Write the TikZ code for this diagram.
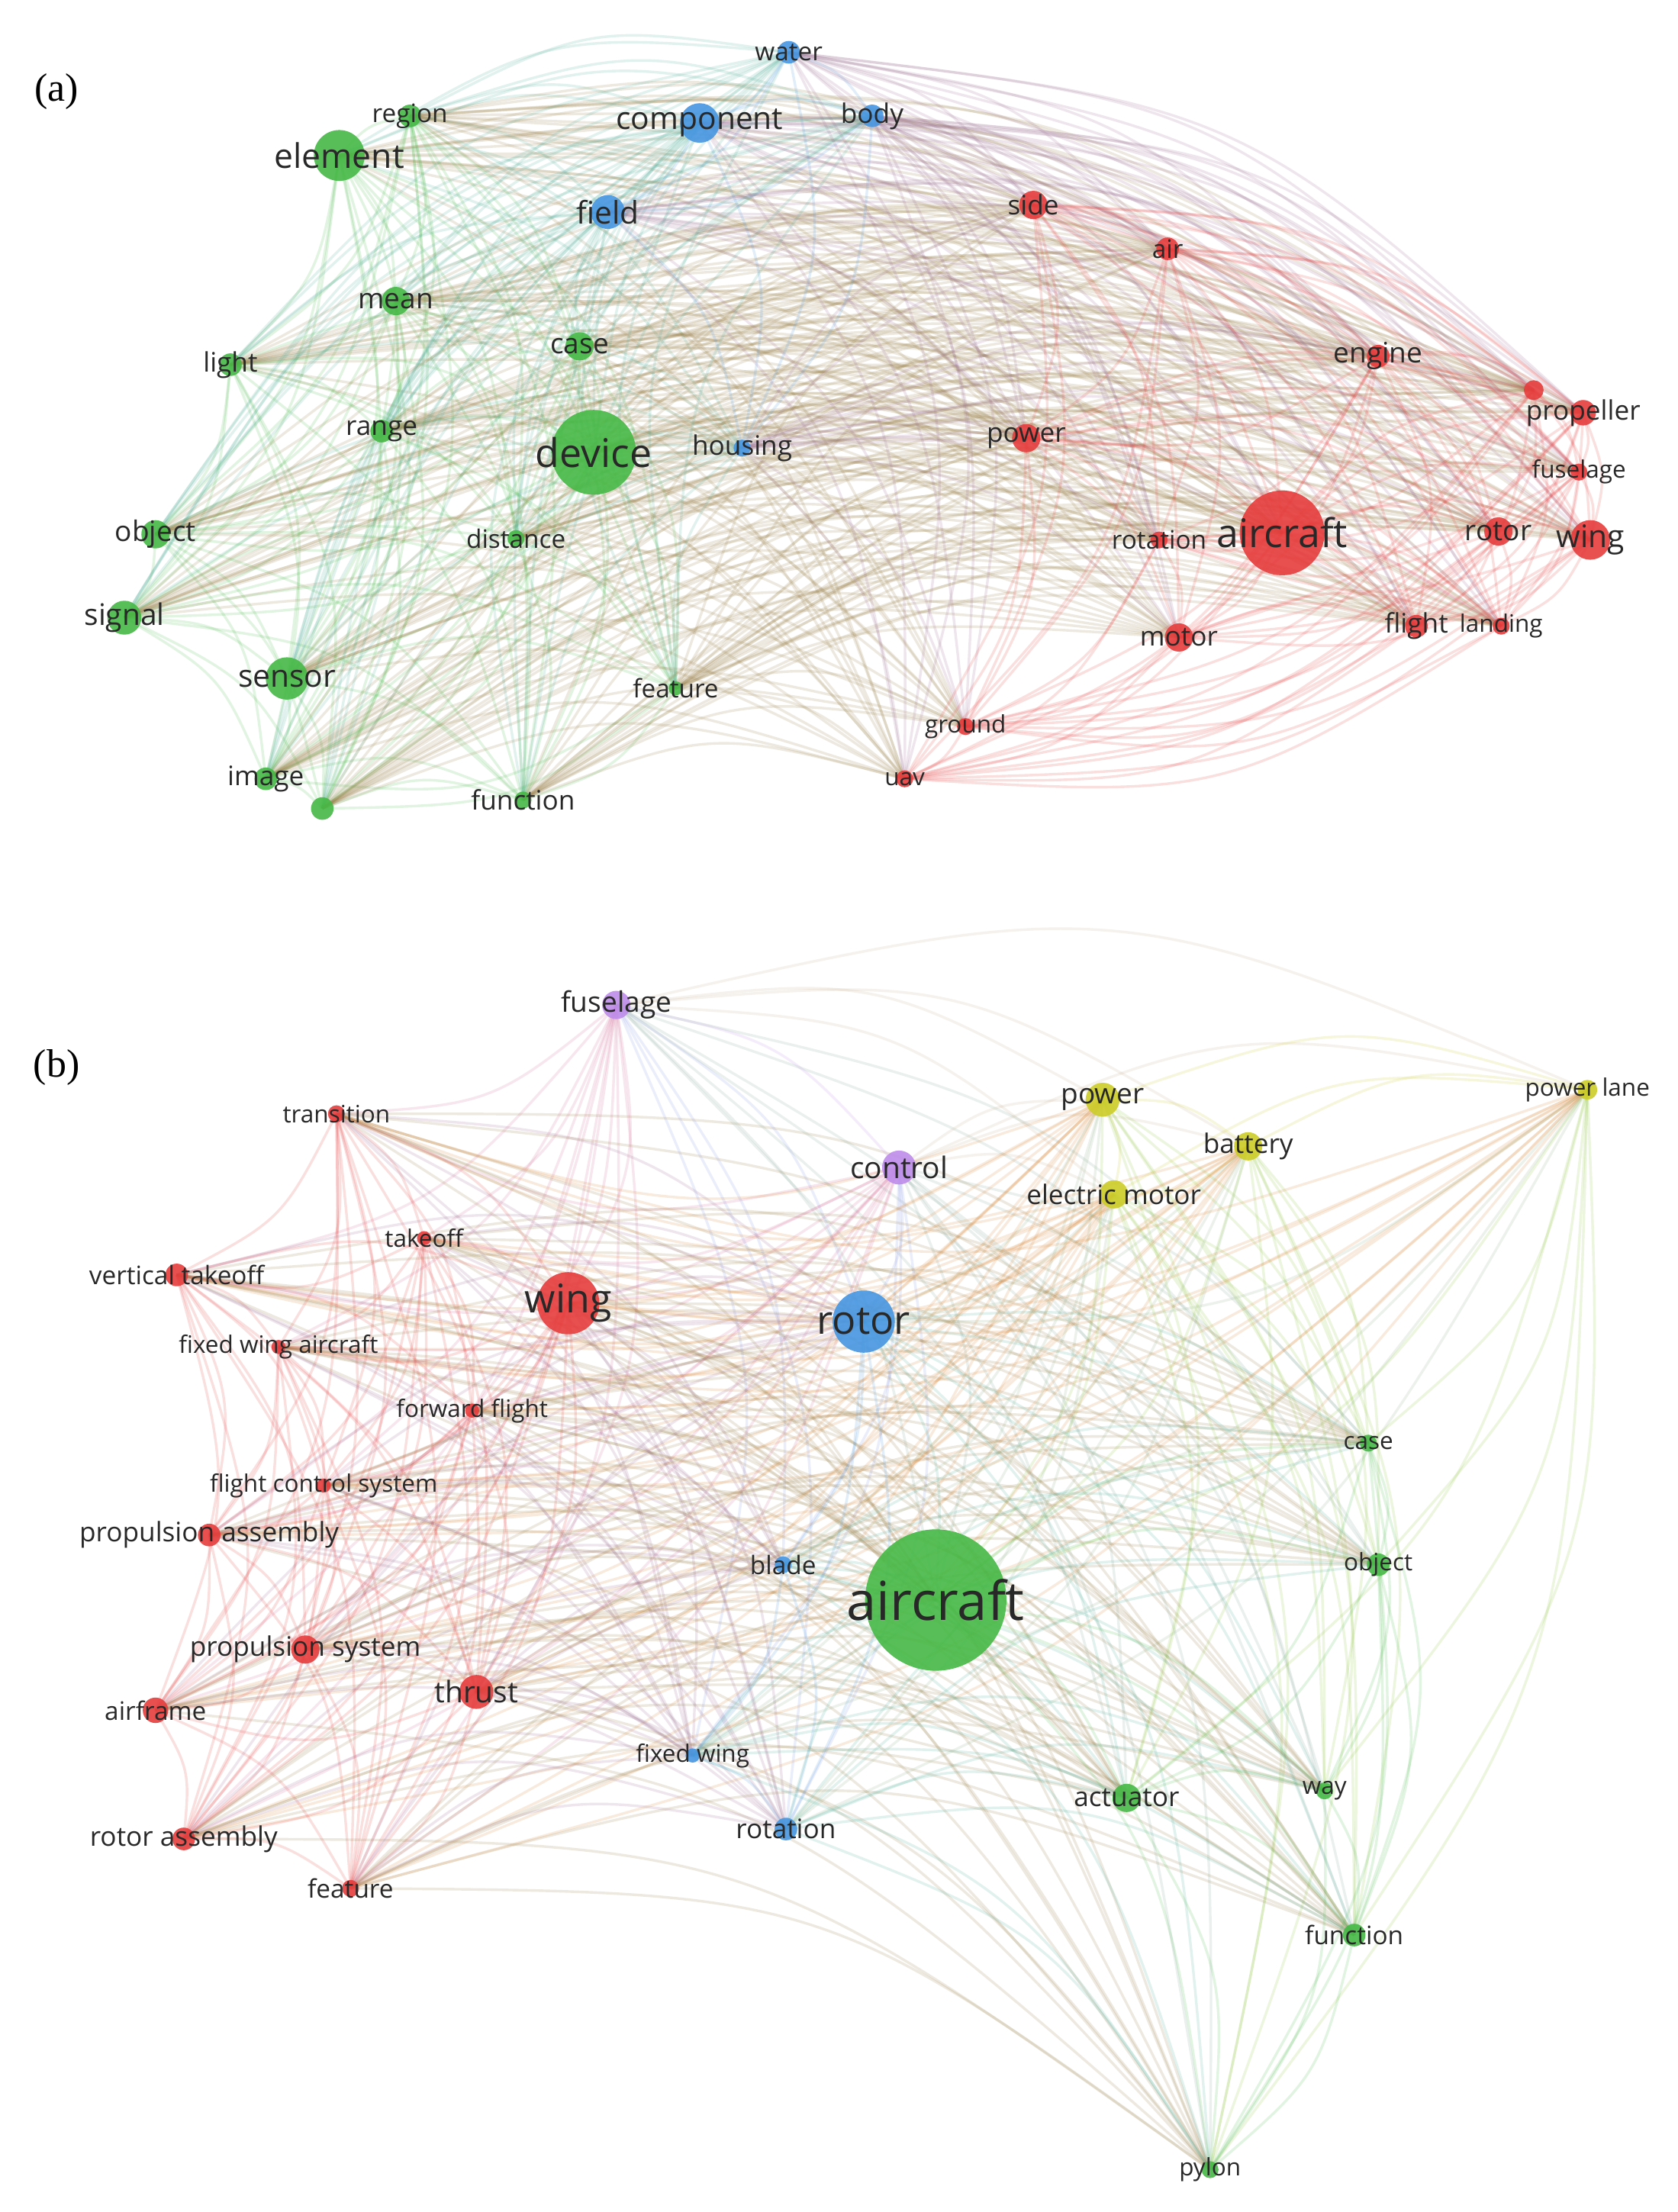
\documentclass[tikz,border=0pt]{standalone}
\usepackage{fontspec}
\setmainfont{Liberation Serif}
\newfontfamily\lab{Open Sans}
\definecolor{gG}{RGB}{70,185,70}
\definecolor{gR}{RGB}{230,60,60}
\definecolor{gB}{RGB}{70,150,225}
\definecolor{gP}{RGB}{190,140,235}
\definecolor{gY}{RGB}{205,205,40}
\definecolor{txt}{RGB}{40,40,40}
\tikzset{edge/.style={line width=0.55pt,opacity=0.16},
 lbl/.style={text=txt,inner sep=0pt}}
\def\PA{element/240/110/18/gG/element/24,
region/290/82/8/gG/region/18,
mean/280/213/10/gG/mean/20,
light/163/258/8/gG/light/19,
range/270/305/8/gG/range/19,
case/410/245/10/gG/case/20,
device/420/320/30/gG/device/28,
object/110/378/10/gG/object/20,
signal/88/437/12/gG/signal/21,
sensor/203/480/15/gG/sensor/22,
distance/365/381/6/gG/distance/18,
feature/478/487/5/gG/feature/18,
image/188/551/8/gG/image/19,
information/228/572/8/gG/{}/10,
function/370/566/6/gG/function/19,
water/558/37/8/gB/water/18,
component/495/87/14/gB/component/22,
body/617/82/8/gB/body/19,
field/430/150/12/gB/field/22,
housing/525/317/6/gB/housing/19,
side/731/145/10/gR/side/19,
air/826/176/8/gR/air/18,
engine/975/252/8/gR/engine/20,
power/726/310/10/gR/power/19,
aircraft/907/377/30/gR/aircraft/28,
propeller/1120/292/9/gR/propeller/19,
pp/1085/276/7/gR/{}/10,
fuselage/1117/334/6/gR/fuselage/17,
rotor/1060/376/10/gR/rotor/20,
wing/1125/382/14/gR/wing/22,
rotation/820/382/6/gR/rotation/18,
motor/834/451/10/gR/motor/19,
flight/1002/443/8/gR/flight/19,
landing/1062/443/6/gR/landing/17,
ground/683/514/6/gR/ground/17,
uav/640/551/6/gR/uav/17}
\def\PB{bfus/436/711/10/gP/fuselage/20,
bcontrol/636/826/12/gP/control/21,
bpower/780/778/12/gY/power/20,
bbattery/883/811/10/gY/battery/19,
bem/788/845/10/gY/electric motor/19,
bpl/1123/771/7/gY/power lane/17,
btrans/238/788/6/gR/transition/17,
btake/300/876/5/gR/takeoff/17,
bvt/125/902/8/gR/vertical takeoff/18,
bwing/402/922/22/gR/wing/28,
bfwa/197/953/5/gR/fixed wing aircraft/17,
bff/334/998/5/gR/forward flight/17,
bfcs/229/1051/5/gR/flight control system/17,
bpa/148/1086/8/gR/propulsion assembly/19,
bps/216/1167/10/gR/propulsion system/19,
bthrust/337/1197/12/gR/thrust/21,
bairframe/110/1210/9/gR/airframe/18,
bra/130/1301/8/gR/rotor assembly/19,
bfeat/248/1336/6/gR/feature/18,
brotor/611/935/22/gB/rotor/28,
bblade/554/1107/6/gB/blade/18,
bfw/490/1242/5/gB/fixed wing/17,
brot/556/1294/8/gB/rotation/19,
bair/662/1132/50/gG/aircraft/38,
bcase/968/1021/6/gG/case/17,
bobj/975/1107/8/gG/object/17,
bact/797/1272/10/gG/actuator/19,
bway/937/1267/6/gG/way/17,
bfun/958/1369/8/gG/function/18,
bpylon/856/1535/6/gG/pylon/17}
\newcommand\drawpanel[1]{%
\foreach \nA/\xA/\yA/\rA/\cA/\lA/\fA in #1 {\coordinate (\nA) at (\xA,\yA);}
\foreach \nA/\xA/\yA/\rA/\cA/\lA/\fA [count=\iA] in #1 {
 \foreach \nB/\xB/\yB/\rB/\cB/\lB/\fB [count=\iB] in #1 {
  \ifnum\iA<\iB
   \pgfmathsetmacro\cX{(\xA+\xB)/2+0.16*(\yB-\yA)}
   \pgfmathsetmacro\cY{(\yA+\yB)/2-0.16*(\xB-\xA)}
   \draw[edge,color=\cA!50!\cB] (\nA) .. controls (\cX,\cY) .. (\nB);
  \fi}}
\foreach \nA/\xA/\yA/\rA/\cA/\lA/\fA in #1 {\fill[\cA,opacity=0.9] (\nA) circle (\rA);}
\foreach \nA/\xA/\yA/\rA/\cA/\lA/\fA in #1 {\node[lbl,font=\lab\fontsize{\fA}{\fA}\selectfont] at (\nA) {\lA};}
}
\begin{document}
\begin{tikzpicture}[x=1pt,y=-1pt,scale=0.3,every node/.style={transform shape}]
\useasboundingbox (0,0) rectangle (1187,1565);
\fill[white] (0,0) rectangle (1187,1565);
\drawpanel{\PA}
\drawpanel{\PB}
\node[font=\fontsize{28}{28}\selectfont] (la) at (40,65) {(a)};
\node[font=\fontsize{28}{28}\selectfont] (lb) at (40,755) {(b)};
\end{tikzpicture}
\end{document}
